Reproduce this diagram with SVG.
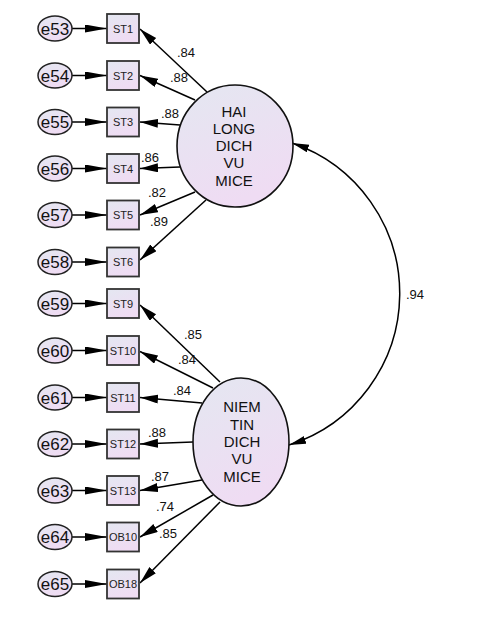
<svg xmlns="http://www.w3.org/2000/svg" width="477" height="625" viewBox="0 0 477 625">
<defs>
<linearGradient id="g" x1="0" y1="0" x2="0.4" y2="1">
<stop offset="0" stop-color="#e4e7f1"/>
<stop offset="1" stop-color="#efdcf3"/>
</linearGradient>
<marker id="ah" markerUnits="userSpaceOnUse" markerWidth="20" markerHeight="10" refX="18" refY="4.5" orient="auto">
<path d="M0,0 L18,4.5 L0,9 z" fill="#000"/>
</marker>
<marker id="ae" markerUnits="userSpaceOnUse" markerWidth="24" markerHeight="10" refX="22" refY="4" orient="auto">
<path d="M0,0 L22,4 L0,8 z" fill="#000"/>
</marker>
<marker id="ac" markerUnits="userSpaceOnUse" markerWidth="20" markerHeight="10" refX="17" refY="4" orient="auto-start-reverse">
<path d="M0,0 L17,4 L0,8 z" fill="#000"/>
</marker>
</defs>
<style>
.err{fill:url(#g);stroke:#222;stroke-width:1.5}
.obs{fill:url(#g);stroke:#333;stroke-width:1.8}
.lat{fill:url(#g);stroke:#111;stroke-width:1.6}
.et{font-family:"Liberation Sans",Arial,sans-serif;font-size:17px;fill:#111;text-anchor:middle}
.ot{font-family:"Liberation Sans",Arial,sans-serif;font-size:11px;fill:#222;text-anchor:middle}
.lt{font-family:"Liberation Sans",Arial,sans-serif;font-size:15px;fill:#111;text-anchor:middle}
.wt{font-family:"Liberation Sans",Arial,sans-serif;font-size:13px;fill:#111;text-anchor:middle}
.ln{stroke:#000;stroke-width:1.5;fill:none}
</style>
<rect width="477" height="625" fill="#fff"/>

<g id="connectors">
<!-- error arrows -->
<line class="ln" x1="72" y1="28.5" x2="107" y2="28.5" marker-end="url(#ae)"/>
<line class="ln" x1="72" y1="75.5" x2="107" y2="75.5" marker-end="url(#ae)"/>
<line class="ln" x1="72" y1="122" x2="107" y2="122" marker-end="url(#ae)"/>
<line class="ln" x1="72" y1="168.5" x2="107" y2="168.5" marker-end="url(#ae)"/>
<line class="ln" x1="72" y1="215" x2="107" y2="215" marker-end="url(#ae)"/>
<line class="ln" x1="72" y1="262" x2="107" y2="262" marker-end="url(#ae)"/>
<line class="ln" x1="72" y1="303.5" x2="107" y2="303.5" marker-end="url(#ae)"/>
<line class="ln" x1="72" y1="350.5" x2="107" y2="350.5" marker-end="url(#ae)"/>
<line class="ln" x1="72" y1="397.5" x2="107" y2="397.5" marker-end="url(#ae)"/>
<line class="ln" x1="72" y1="444" x2="107" y2="444" marker-end="url(#ae)"/>
<line class="ln" x1="72" y1="490.5" x2="107" y2="490.5" marker-end="url(#ae)"/>
<line class="ln" x1="72" y1="537" x2="107" y2="537" marker-end="url(#ae)"/>
<line class="ln" x1="72" y1="584" x2="107" y2="584" marker-end="url(#ae)"/>
<!-- loadings factor 1 -->
<line class="ln" x1="207" y1="92" x2="140" y2="29" marker-end="url(#ah)"/>
<line class="ln" x1="195" y1="100" x2="140" y2="75.5" marker-end="url(#ah)"/>
<line class="ln" x1="180" y1="125" x2="140" y2="122" marker-end="url(#ah)"/>
<line class="ln" x1="180" y1="167" x2="140" y2="168.5" marker-end="url(#ah)"/>
<line class="ln" x1="195" y1="192" x2="140" y2="215" marker-end="url(#ah)"/>
<line class="ln" x1="206" y1="200" x2="140" y2="260" marker-end="url(#ah)"/>
<!-- loadings factor 2 -->
<line class="ln" x1="220" y1="382" x2="140" y2="305" marker-end="url(#ah)"/>
<line class="ln" x1="213" y1="388" x2="140" y2="351.5" marker-end="url(#ah)"/>
<line class="ln" x1="202" y1="403" x2="140" y2="397.5" marker-end="url(#ah)"/>
<line class="ln" x1="193" y1="442" x2="140" y2="444" marker-end="url(#ah)"/>
<line class="ln" x1="202" y1="480" x2="140" y2="490.5" marker-end="url(#ah)"/>
<line class="ln" x1="213" y1="495" x2="140" y2="537" marker-end="url(#ah)"/>
<line class="ln" x1="220" y1="502" x2="140" y2="583" marker-end="url(#ah)"/>
<!-- covariance -->
<path class="ln" d="M292,143 A159,159 0 0 1 289,445" marker-start="url(#ac)" marker-end="url(#ac)"/>
<!-- labels -->
<text class="wt" x="186" y="57">.84</text>
<text class="wt" x="179" y="82">.88</text>
<text class="wt" x="170" y="118">.88</text>
<text class="wt" x="150" y="162">.86</text>
<text class="wt" x="157" y="197">.82</text>
<text class="wt" x="159" y="226">.89</text>
<text class="wt" x="193" y="339">.85</text>
<text class="wt" x="187" y="364">.84</text>
<text class="wt" x="182" y="395">.84</text>
<text class="wt" x="157" y="437">.88</text>
<text class="wt" x="160" y="481">.87</text>
<text class="wt" x="165" y="511">.74</text>
<text class="wt" x="168" y="538">.85</text>
<text class="wt" x="415" y="299">.94</text>
</g>

<g id="e53"><ellipse class="err" cx="55" cy="28.5" rx="17" ry="12.5"/><text class="et" x="55" y="34.5">e53</text></g>
<g id="e54"><ellipse class="err" cx="55" cy="75.5" rx="17" ry="12.5"/><text class="et" x="55" y="81.5">e54</text></g>
<g id="e55"><ellipse class="err" cx="55" cy="122" rx="17" ry="12.5"/><text class="et" x="55" y="128">e55</text></g>
<g id="e56"><ellipse class="err" cx="55" cy="168.5" rx="17" ry="12.5"/><text class="et" x="55" y="174.5">e56</text></g>
<g id="e57"><ellipse class="err" cx="55" cy="215" rx="17" ry="12.5"/><text class="et" x="55" y="221">e57</text></g>
<g id="e58"><ellipse class="err" cx="55" cy="262" rx="17" ry="12.5"/><text class="et" x="55" y="268">e58</text></g>
<g id="e59"><ellipse class="err" cx="55" cy="303.5" rx="17" ry="12.5"/><text class="et" x="55" y="309.5">e59</text></g>
<g id="e60"><ellipse class="err" cx="55" cy="350.5" rx="17" ry="12.5"/><text class="et" x="55" y="356.5">e60</text></g>
<g id="e61"><ellipse class="err" cx="55" cy="397.5" rx="17" ry="12.5"/><text class="et" x="55" y="403.5">e61</text></g>
<g id="e62"><ellipse class="err" cx="55" cy="444" rx="17" ry="12.5"/><text class="et" x="55" y="450">e62</text></g>
<g id="e63"><ellipse class="err" cx="55" cy="490.5" rx="17" ry="12.5"/><text class="et" x="55" y="496.5">e63</text></g>
<g id="e64"><ellipse class="err" cx="55" cy="537" rx="17" ry="12.5"/><text class="et" x="55" y="543">e64</text></g>
<g id="e65"><ellipse class="err" cx="55" cy="584" rx="17" ry="12.5"/><text class="et" x="55" y="590">e65</text></g>

<g id="ST1"><rect class="obs" x="107" y="14" width="32" height="29"/><text class="ot" x="123" y="32.5">ST1</text></g>
<g id="ST2"><rect class="obs" x="107" y="61" width="32" height="29"/><text class="ot" x="123" y="79.5">ST2</text></g>
<g id="ST3"><rect class="obs" x="107" y="107.5" width="32" height="29"/><text class="ot" x="123" y="126">ST3</text></g>
<g id="ST4"><rect class="obs" x="107" y="154" width="32" height="29"/><text class="ot" x="123" y="172.5">ST4</text></g>
<g id="ST5"><rect class="obs" x="107" y="200.5" width="32" height="29"/><text class="ot" x="123" y="219">ST5</text></g>
<g id="ST6"><rect class="obs" x="107" y="247.5" width="32" height="29"/><text class="ot" x="123" y="266">ST6</text></g>
<g id="ST9"><rect class="obs" x="107" y="289" width="32" height="29"/><text class="ot" x="123" y="307.5">ST9</text></g>
<g id="ST10"><rect class="obs" x="107" y="336" width="32" height="29"/><text class="ot" x="123" y="354.5">ST10</text></g>
<g id="ST11"><rect class="obs" x="107" y="383" width="32" height="29"/><text class="ot" x="123" y="401.5">ST11</text></g>
<g id="ST12"><rect class="obs" x="107" y="429.5" width="32" height="29"/><text class="ot" x="123" y="448">ST12</text></g>
<g id="ST13"><rect class="obs" x="107" y="476" width="32" height="29"/><text class="ot" x="123" y="494.5">ST13</text></g>
<g id="OB10"><rect class="obs" x="107" y="522.5" width="32" height="29"/><text class="ot" x="123" y="541">OB10</text></g>
<g id="OB18"><rect class="obs" x="107" y="569.5" width="32" height="29"/><text class="ot" x="123" y="588">OB18</text></g>

<g id="HAI_LONG_DICH_VU_MICE">
<ellipse class="lat" cx="235" cy="146" rx="58" ry="61"/>
<text class="lt" x="234" y="117">HAI</text>
<text class="lt" x="234" y="134">LONG</text>
<text class="lt" x="234" y="151">DICH</text>
<text class="lt" x="234" y="168">VU</text>
<text class="lt" x="234" y="186">MICE</text>
</g>
<g id="NIEM_TIN_DICH_VU_MICE">
<ellipse class="lat" cx="241" cy="442" rx="48" ry="64"/>
<text class="lt" x="242" y="412">NIEM</text>
<text class="lt" x="242" y="430">TIN</text>
<text class="lt" x="242" y="447">DICH</text>
<text class="lt" x="242" y="464">VU</text>
<text class="lt" x="242" y="482">MICE</text>
</g>
</svg>
